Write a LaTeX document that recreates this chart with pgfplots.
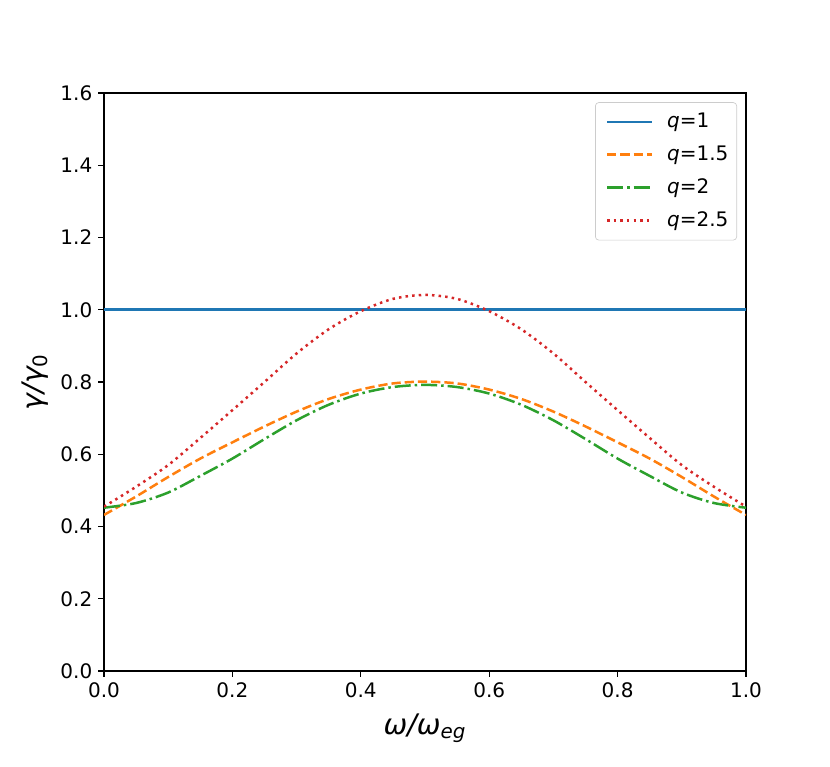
\documentclass[border=0pt]{standalone}
\usepackage{fontspec}
\setmainfont{DejaVu Sans}
\usepackage{pgfplots}
\pgfplotsset{compat=1.18}
\definecolor{tabblue}{HTML}{1F77B4}
\definecolor{taborange}{HTML}{FF7F0E}
\definecolor{tabgreen}{HTML}{2CA02C}
\definecolor{tabred}{HTML}{D62728}
\begin{document}
\begin{tikzpicture}
\begin{axis}[
  at={(0,0)}, anchor=south west,
  scale only axis,
  width=385.2pt, height=346.8pt,
  xmin=0, xmax=1, ymin=0, ymax=1.6,
  xtick={0,0.2,0.4,0.6,0.8,1.0},
  ytick={0,0.2,0.4,0.6,0.8,1.0,1.2,1.4,1.6},
  tick align=outside,
  major tick length=3.5pt,
  xtick pos=bottom, ytick pos=left,
  axis line style={line width=0.8pt},
  every tick/.style={black, line width=0.8pt},
  /pgf/number format/assume math mode=true,
  /pgf/number format/.cd, fixed, fixed zerofill, precision=1, /pgfplots/.cd,
  tick label style={font=\fontsize{12}{14}\selectfont},
  xlabel={{\itshape ω/ω\textsubscript{eg}}},
  ylabel={{\itshape γ/γ}\textsubscript{0}},
  xlabel style={at={(axis description cs:0.5,-0.0986)}, anchor=center, font=\fontsize{17}{20}\selectfont},
  ylabel style={at={(axis description cs:-0.1075,0.5)}, anchor=center, rotate=0, font=\fontsize{17}{20}\selectfont},
  legend style={at={(axis description cs:0.986,0.984)}, anchor=north east,
    draw=black!20, rounded corners=2pt, fill=white, fill opacity=0.8, text opacity=1,
    font=\fontsize{12}{14}\selectfont, row sep=5.4pt, inner xsep=3pt, inner ysep=4.5pt,
    cells={anchor=west}},
  legend image code/.code={\path[draw=none,fill=none] (-4pt,0pt) (34pt,0pt); \draw[#1] (0pt,0pt) -- (27pt,0pt);},
  legend cell align=left,
]
\addplot[tabblue, line width=1.5pt] coordinates {(0,1) (1,1)};
\addlegendentry{\textit{q}=1}
\addplot[taborange, line width=1.5pt, dash pattern=on 5.55pt off 2.4pt, smooth] coordinates {
(0,0.432) (0.05,0.483) (0.1,0.537) (0.15,0.588) (0.2,0.633) (0.25,0.677) (0.3,0.718) (0.35,0.753) (0.4,0.779) (0.45,0.796) (0.5,0.801)
(0.55,0.796) (0.6,0.779) (0.65,0.753) (0.7,0.718) (0.75,0.677) (0.8,0.633) (0.85,0.588) (0.9,0.537) (0.95,0.483) (1,0.432)};
\addlegendentry{\textit{q}=1.5}
\addplot[tabgreen, line width=1.5pt, dash pattern=on 9.6pt off 2.4pt on 1.5pt off 2.4pt, smooth] coordinates {
(0,0.452) (0.05,0.465) (0.1,0.494) (0.15,0.540) (0.2,0.588) (0.25,0.642) (0.3,0.694) (0.35,0.737) (0.4,0.768) (0.45,0.786) (0.5,0.792)
(0.55,0.786) (0.6,0.768) (0.65,0.737) (0.7,0.694) (0.75,0.642) (0.8,0.588) (0.85,0.540) (0.9,0.494) (0.95,0.465) (1,0.452)};
\addlegendentry{\textit{q}=2}
\addplot[tabred, line width=1.5pt, dash pattern=on 1.5pt off 2.475pt, smooth] coordinates {
(0,0.455) (0.05,0.510) (0.1,0.570) (0.15,0.645) (0.2,0.722) (0.25,0.800) (0.3,0.879) (0.35,0.946) (0.4,0.996) (0.45,1.030) (0.5,1.041)
(0.55,1.030) (0.6,0.996) (0.65,0.946) (0.7,0.879) (0.75,0.800) (0.8,0.722) (0.85,0.645) (0.9,0.570) (0.95,0.510) (1,0.455)};
\addlegendentry{\textit{q}=2.5}
\end{axis}
\pgfresetboundingbox
\path[use as bounding box] (-62.4pt,-57.6pt) rectangle (435.6pt,402.6pt);
\end{tikzpicture}
\end{document}
